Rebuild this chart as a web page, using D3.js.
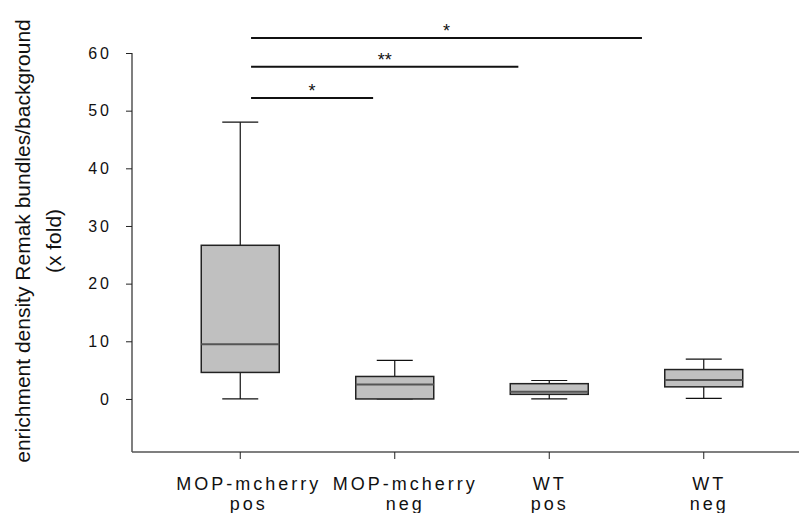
<!DOCTYPE html>
<html>
<head>
<meta charset="utf-8">
<script src="https://cdn.jsdelivr.net/npm/d3@7"></script>
<style>
  body { margin: 0; background: #fff; }
  text { font-family: "Liberation Sans", Arial, sans-serif; }
</style>
</head>
<body>
<svg class="box-chart"></svg>
<script>
const width = 799;
const height = 513;

// Data
const groups = [['MOP-mcherry', 'pos'], ['MOP-mcherry', 'neg'], ['WT', 'pos'], ['WT', 'neg']];
const whiskerLow = [0, 0, 0, 0.1];
const q1 = [4.6, 0, 0.8, 2.1];
const median = [9.5, 2.5, 1.27, 3.3];
const q3 = [26.65, 3.9, 2.65, 5.1];
const whiskerHigh = [48, 6.7, 3.2, 6.9];
const yTicks = [0, 10, 20, 30, 40, 50, 60];

// significance brackets (from / to in group units, height in data units)
const sigFrom = [0.07, 0.07, 0.07];
const sigTo = [0.86, 1.8, 2.6];
const sigLevel = [52.2, 57.6, 62.6];
const sigLabel = ['*', '**', '*'];

// labels in the original sit a little off the tick marks
const labelNudge = [7, 9, -1, 4];

const svg = d3.select('.box-chart')
    .attr('width', width)
    .attr('height', height);

// Scales
const yScale = d3.scaleLinear()
    .domain([-9.2, 60])
    .range([452, 53]);

const xScale = d3.scaleLinear()
    .domain([-0.5, 3.5])
    .range([163, 781]);

const boxWidth = 78;
const capWidth = 36;

// Y axis
const yAxis = d3.axisLeft(yScale)
    .tickValues(yTicks)
    .tickSize(6)
    .tickSizeOuter(0)
    .tickPadding(14);

const gy = svg.append('g')
    .attr('transform', 'translate(132,0)')
    .call(yAxis);

gy.select('.domain').attr('stroke', '#555').attr('stroke-width', 1.5)
    .attr('d', `M0,${yScale(60)}V${yScale(-9.2)}`);
gy.selectAll('.tick line').attr('stroke', '#222');
gy.selectAll('.tick text')
    .attr('font-size', 16)
    .attr('letter-spacing', 3)
    .attr('fill', '#111')
    .attr('font-family', '"Liberation Sans", Arial, sans-serif');

// X axis line
svg.append('line')
    .attr('x1', 132).attr('x2', width)
    .attr('y1', 452).attr('y2', 452)
    .attr('stroke', '#555')
    .attr('stroke-width', 1.5);

// X ticks and labels
const gx = svg.append('g');
groups.forEach((g, i) => {
    gx.append('line')
        .attr('x1', xScale(i)).attr('x2', xScale(i))
        .attr('y1', 452).attr('y2', 459)
        .attr('stroke', '#222');
    const lx = xScale(i) + 1.5 + labelNudge[i];
    const t = gx.append('text')
        .attr('text-anchor', 'middle')
        .attr('font-size', 18)
        .attr('letter-spacing', 3)
        .attr('fill', '#111');
    t.append('tspan').attr('x', lx).attr('y', 490).text(g[0]);
    t.append('tspan').attr('x', lx).attr('y', 510).text(g[1]);
});

// Boxes
const boxes = svg.append('g');
groups.forEach((g, i) => {
    const cx = xScale(i);
    // whiskers
    boxes.append('line')
        .attr('x1', cx).attr('x2', cx)
        .attr('y1', yScale(q3[i])).attr('y2', yScale(whiskerHigh[i]))
        .attr('stroke', '#111').attr('stroke-width', 1.2);
    boxes.append('line')
        .attr('x1', cx).attr('x2', cx)
        .attr('y1', yScale(q1[i])).attr('y2', yScale(whiskerLow[i]))
        .attr('stroke', '#111').attr('stroke-width', 1.2);
    boxes.append('line')
        .attr('x1', cx - capWidth / 2).attr('x2', cx + capWidth / 2)
        .attr('y1', yScale(whiskerHigh[i])).attr('y2', yScale(whiskerHigh[i]))
        .attr('stroke', '#111').attr('stroke-width', 1.2);
    boxes.append('line')
        .attr('x1', cx - capWidth / 2).attr('x2', cx + capWidth / 2)
        .attr('y1', yScale(whiskerLow[i])).attr('y2', yScale(whiskerLow[i]))
        .attr('stroke', '#111').attr('stroke-width', 1.2);
    // box
    boxes.append('rect')
        .attr('x', cx - boxWidth / 2)
        .attr('y', yScale(q3[i]))
        .attr('width', boxWidth)
        .attr('height', yScale(q1[i]) - yScale(q3[i]))
        .attr('fill', '#c0c0c0')
        .attr('stroke', '#222')
        .attr('stroke-width', 1.5);
    // median
    boxes.append('line')
        .attr('x1', cx - boxWidth / 2).attr('x2', cx + boxWidth / 2)
        .attr('y1', yScale(median[i])).attr('y2', yScale(median[i]))
        .attr('stroke', '#555').attr('stroke-width', 2);
});

// Significance bars
const sig = svg.append('g');
sigLevel.forEach((lv, i) => {
    sig.append('line')
        .attr('x1', xScale(sigFrom[i])).attr('x2', xScale(sigTo[i]))
        .attr('y1', yScale(lv)).attr('y2', yScale(lv))
        .attr('stroke', '#111')
        .attr('stroke-width', 2);
    sig.append('text')
        .attr('x', (xScale(sigFrom[i]) + xScale(sigTo[i])) / 2)
        .attr('y', yScale(lv) - 1)
        .attr('text-anchor', 'middle')
        .attr('font-size', 18)
        .attr('fill', '#111')
        .text(sigLabel[i]);
});

// Y axis title
const title = svg.append('text')
    .attr('transform', 'translate(0,241) rotate(-90)')
    .attr('text-anchor', 'middle')
    .attr('font-size', 21)
    .attr('fill', '#111');
title.append('tspan').attr('x', 0).attr('y', 30).text('enrichment density Remak bundles/background');
title.append('tspan').attr('x', 0).attr('y', 61).text('(x fold)');
</script>
</body>
</html>
